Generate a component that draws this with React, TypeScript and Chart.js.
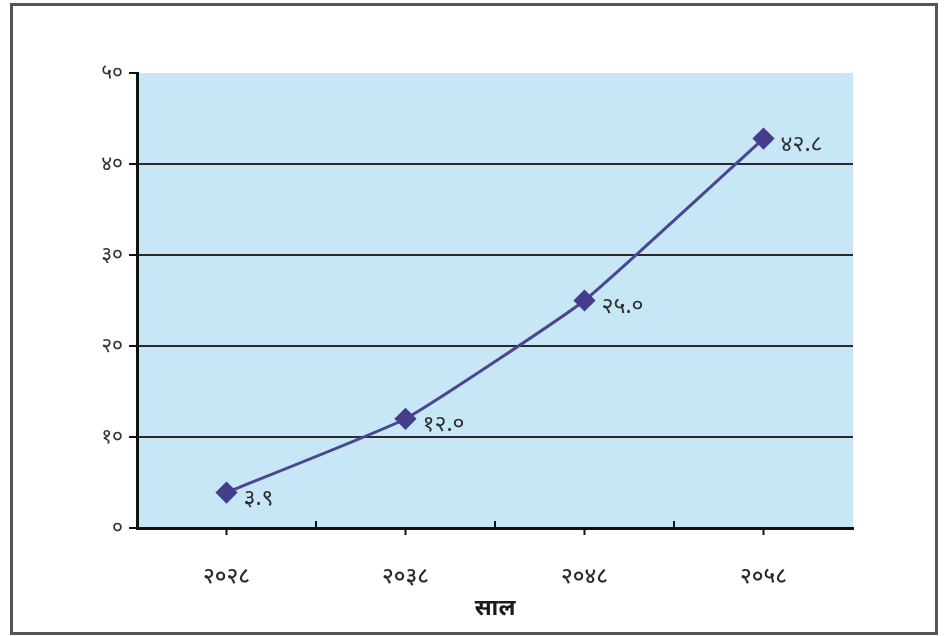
import React, { useEffect, useRef } from "react";
import { Chart, registerables } from "chart.js";

Chart.register(...registerables);

const years = ["२०२८", "२०३८", "२०४८", "२०५८"];
const values = [3.9, 12.0, 25.0, 42.8];
const valueLabels = ["३.९", "१२.०", "२५.०", "४२.८"];
const yTickValues = [0, 10, 20, 30, 40, 50];
const yTickLabels = ["०", "१०", "२०", "३०", "४०", "५०"];
const xTitle = "साल";

const FONT = "'Noto Sans', 'Noto Sans Devanagari', 'Lohit Devanagari', 'FreeSans', sans-serif";

const plotBg = {
  id: "plotBg",
  beforeDraw(chart: any) {
    const { ctx, chartArea } = chart;
    ctx.save();
    ctx.fillStyle = "#c7e7f6";
    ctx.fillRect(chartArea.left, chartArea.top, chartArea.right - chartArea.left, chartArea.bottom - chartArea.top);
    ctx.restore();
  },
};

const xTicks = {
  id: "xTicks",
  afterDatasetsDraw(chart: any) {
    const { ctx, chartArea } = chart;
    const x = chart.scales.x;
    const b = chartArea.bottom;
    ctx.save();
    ctx.strokeStyle = "#111";
    ctx.lineWidth = 2;
    const n = years.length;
    for (let i = 0; i < n; i++) {
      const px = x.getPixelForValue(i);
      ctx.beginPath();
      ctx.moveTo(px, b);
      ctx.lineTo(px, b + 7);
      ctx.stroke();
      if (i < n - 1) {
        const mid = (px + x.getPixelForValue(i + 1)) / 2;
        ctx.beginPath();
        ctx.moveTo(mid, b);
        ctx.lineTo(mid, b - 7);
        ctx.stroke();
      }
    }
    ctx.restore();
  },
};

const pointLabels = {
  id: "pointLabels",
  afterDatasetsDraw(chart: any) {
    const { ctx } = chart;
    const meta = chart.getDatasetMeta(0);
    ctx.save();
    ctx.fillStyle = "#2e2e2e";
    ctx.font = `23px ${FONT}`;
    ctx.textAlign = "left";
    ctx.textBaseline = "middle";
    meta.data.forEach((pt: any, i: number) => {
      ctx.fillText(valueLabels[i], pt.x + 17, pt.y + 6);
    });
    ctx.restore();
  },
};

export default function App() {
  const ref = useRef<HTMLCanvasElement | null>(null);

  useEffect(() => {
    if (!ref.current) return;
    const chart = new Chart(ref.current, {
      type: "line",
      data: {
        labels: years,
        datasets: [
          {
            data: values,
            borderColor: "#4a4690",
            borderWidth: 3,
            backgroundColor: "#463c8c",
            pointStyle: "rectRot",
            pointRadius: 9,
            pointHoverRadius: 9,
            pointBackgroundColor: "#463c8c",
            pointBorderColor: "#463c8c",
            tension: 0.12,
          },
        ],
      },
      options: {
        animation: false,
        responsive: false,
        maintainAspectRatio: false,
        events: [],
        layout: { padding: { left: 0, right: 91, top: 73, bottom: 0 } },
        plugins: {
          legend: { display: false },
          tooltip: { enabled: false },
        },
        scales: {
          x: {
            type: "category",
            offset: true,
            grid: { display: false, drawTicks: false },
            border: { display: true, color: "#111", width: 3 },
            ticks: {
              padding: 36,
              color: "#2a2a2a",
              font: { family: FONT, size: 22, weight: "500" },
              maxRotation: 0,
            },
            title: {
              display: true,
              text: xTitle,
              color: "#1a1a1a",
              font: { family: FONT, size: 23, weight: "bold" },
              padding: { top: 0, bottom: 14 },
            },
            afterFit(scale: any) {
              scale.height = 636 - 528;
            },
          },
          y: {
            min: 0,
            max: 50,
            afterBuildTicks(scale: any) {
              scale.ticks = yTickValues.map((v) => ({ value: v }));
            },
            grid: {
              color: (c: any) =>
                c.tick && (c.tick.value === 0 || c.tick.value === 50) ? "rgba(0,0,0,0)" : "#2a2a2a",
              lineWidth: 2,
              tickColor: "#111",
              tickLength: 8,
              drawTicks: true,
            },
            border: { display: true, color: "#111", width: 3 },
            ticks: {
              padding: 6,
              color: "#333",
              font: { family: FONT, size: 21 },
              callback: (v: any) => {
                const i = yTickValues.indexOf(Number(v));
                return i >= 0 ? yTickLabels[i] : "";
              },
            },
            afterFit(scale: any) {
              scale.width = 137;
            },
          },
        },
      },
      plugins: [plotBg, xTicks, pointLabels],
    });
    return () => chart.destroy();
  }, []);

  return (
    <div style={{ position: "fixed", left: 0, top: 0, width: 944, height: 636, background: "#fff" }}>
      <div
        style={{
          position: "absolute",
          left: 10,
          top: 3,
          width: 922,
          height: 626,
          border: "3px solid #555",
          boxSizing: "content-box",
        }}
      />
      <canvas ref={ref} width={944} height={636} style={{ position: "absolute", left: 0, top: 0 }} />
    </div>
  );
}
